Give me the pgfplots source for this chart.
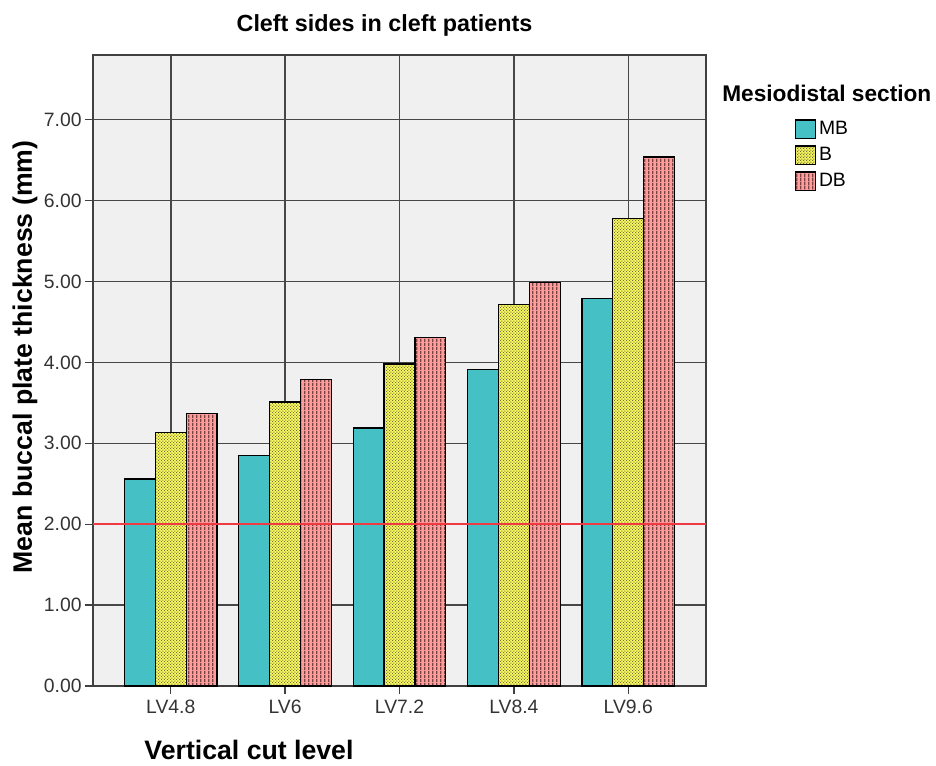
\documentclass[border=0pt]{standalone}
\usepackage{pgfplots}
\pgfplotsset{compat=1.18}
\usepackage{fontspec}
\setmainfont{Liberation Sans}
\usetikzlibrary{patterns}
\definecolor{cMB}{HTML}{45C0C4}
\definecolor{cB}{HTML}{F7F55E}
\definecolor{cDB}{HTML}{FF9C9C}
\definecolor{pB}{HTML}{6E6E3A}
\definecolor{pDB}{HTML}{7A4444}
\definecolor{bg}{HTML}{F0F0F0}
\definecolor{refline}{HTML}{EE3A42}
\pgfdeclarepatternformonly{vstripes}{\pgfqpoint{0pt}{0pt}}{\pgfqpoint{3pt}{3pt}}{\pgfqpoint{3pt}{3pt}}{%
  \pgfpathrectangle{\pgfqpoint{0pt}{0pt}}{\pgfqpoint{1.3pt}{3pt}}\pgfusepath{fill}}
\pgfdeclarepatternformonly{dotsb}{\pgfqpoint{0pt}{0pt}}{\pgfqpoint{2.2pt}{2.2pt}}{\pgfqpoint{2.2pt}{2.2pt}}{%
  \pgfpathrectangle{\pgfqpoint{0pt}{0pt}}{\pgfqpoint{0.75pt}{0.75pt}}%
  \pgfpathrectangle{\pgfqpoint{1.1pt}{1.1pt}}{\pgfqpoint{0.75pt}{0.75pt}}\pgfusepath{fill}}
\begin{document}
\begin{tikzpicture}
\begin{axis}[
  scale only axis,
  width=459.75pt, height=473.25pt,
  xmin=-0.68, xmax=4.68,
  ymin=0, ymax=7.8,
  axis background/.style={fill=bg},
  axis line style={draw=black!75, line width=1.1pt},
  xtick={0,1,2,3,4},
  xticklabels={LV4.8,LV6,LV7.2,LV8.4,LV9.6},
  ytick={0,1,2,3,4,5,6,7},
  yticklabel style={xshift=1pt, /pgf/number format/.cd, fixed, fixed zerofill, precision=2},
  /pgf/number format/assume math mode=true,
  tick label style={font=\fontsize{14.5pt}{16pt}\selectfont, text=black!80},
  xticklabel style={yshift=-1pt},
  tick align=outside,
  major tick length=6pt,
  tick style={draw=black!75, line width=1pt},
  xtick pos=bottom, ytick pos=left,
  grid=major,
  major grid style={draw=black!72, line width=1.1pt},
  xmajorgrids=true, ymajorgrids=true,
  clip=false,
  legend cell align=left,
  legend style={at={(1.145,0.899)}, anchor=north west, draw=none, fill=none,
    font=\fontsize{14.5pt}{16pt}\selectfont, row sep=4pt, inner sep=0pt,
    /tikz/every even column/.append style={column sep=3pt}},
  legend image code/.code={\draw[#1] (0pt,-7pt) rectangle (15pt,7pt);},
]
\addplot[ybar, bar width=0.27, bar shift=-0.27, fill=cMB, draw=black, line width=0.9pt]
  coordinates {(0,2.56) (1,2.85) (2,3.19) (3,3.91) (4,4.79)};
\addlegendentry{MB}
\addplot[ybar, bar width=0.27, bar shift=0, fill=cB, draw=black, line width=0.9pt,
  postaction={pattern=dotsb, pattern color=pB}]
  coordinates {(0,3.13) (1,3.51) (2,3.98) (3,4.72) (4,5.78)};
\addlegendentry{B}
\addplot[ybar, bar width=0.27, bar shift=0.27, fill=cDB, draw=black, line width=0.9pt,
  postaction={pattern=vstripes, pattern color=pDB}]
  coordinates {(0,3.37) (1,3.79) (2,4.31) (3,4.99) (4,6.54)};
\addlegendentry{DB}
\addplot[refline, line width=1.4pt, forget plot] coordinates {(-0.68,2) (4.68,2)};
\end{axis}
\node[font=\bfseries\fontsize{17.5pt}{20pt}\selectfont] at (218.6pt,495.75pt) {Cleft sides in cleft patients};
\node[font=\bfseries\fontsize{20pt}{23pt}\selectfont] at (117pt,-48pt) {Vertical cut level};
\node[font=\bfseries\fontsize{20pt}{23pt}\selectfont, rotate=90] at (-51pt,246.75pt) {Mean buccal plate thickness (mm)};
\node[font=\bfseries\fontsize{17pt}{19pt}\selectfont, anchor=west, inner sep=0pt] at (471.75pt,444.75pt) {Mesiodistal section};
\pgfresetboundingbox
\path[use as bounding box] (-69.75pt,-59.25pt) rectangle (632.25pt,514.5pt);
\end{tikzpicture}
\end{document}
